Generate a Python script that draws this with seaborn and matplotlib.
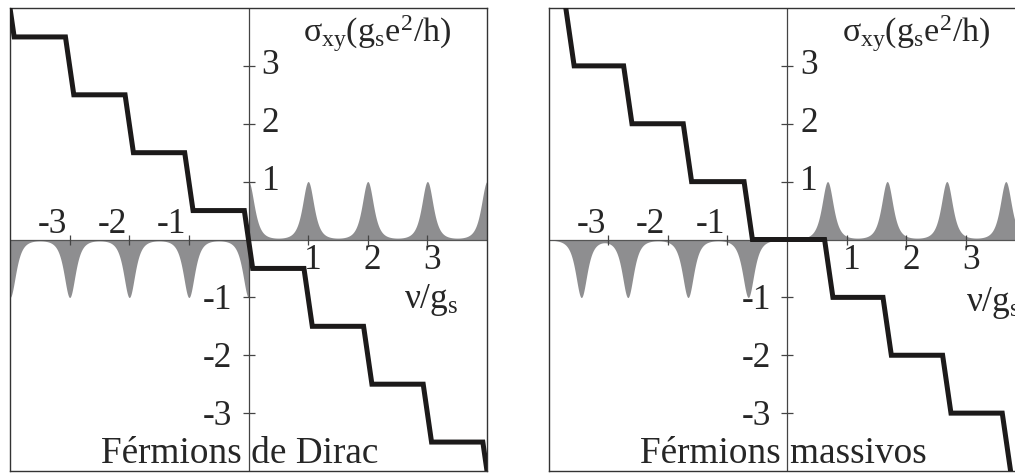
import numpy as np
import pandas as pd
import matplotlib
matplotlib.use("Agg")
import matplotlib.pyplot as plt
import seaborn as sns

# ---------------- data ----------------
# Dirac fermions (left panel)
dirac_transitions = [-4, -3, -2, -1, 0, 1, 2, 3, 4]
dirac_levels = [4.5, 3.5, 2.5, 1.5, 0.5, -0.5, -1.5, -2.5, -3.5, -4.5]
dirac_peaks_pos = [0, 1, 2, 3, 4]
dirac_peaks_neg = [-4, -3, -2, -1, 0]

# Massive fermions (right panel)
massive_transitions = [-3.64, -2.67, -1.67, -0.65, 0.70, 1.68, 2.68, 3.68]
massive_levels = [4, 3, 2, 1, 0, -1, -2, -3, -4]
massive_peaks_pos = [0.68, 1.68, 2.68, 3.67]
massive_peaks_neg = [-3.45, -2.67, -1.66, -0.65]

peak_height = 1.0
y_ticks_pos = [1, 2, 3]
y_ticks_neg = [-1, -2, -3]
x_ticks_neg = [-3, -2, -1]
x_ticks_pos = [1, 2, 3]
titles = ["Férmions de Dirac", "Férmions massivos"]

# ---------------- style ----------------
sns.set_style("white")
plt.rcParams["font.family"] = ["Liberation Serif", "DejaVu Serif"]
plt.rcParams["mathtext.fontset"] = "custom"
plt.rcParams["mathtext.rm"] = "Liberation Serif"
plt.rcParams["mathtext.it"] = "Liberation Serif"
plt.rcParams["mathtext.bf"] = "Liberation Serif:bold"

LINE = "#1c1a1a"
GRAY = "#8e8e90"
AX = "#333333"
FS_TICK = 25.5
FS_TITLE = 26.8
FS_LAB = 24.5
W = 0.07      # half width of a step transition
GAM = 0.175   # peak shape width


def stair(trans, levels):
    xs, ys = [], []
    for i, t in enumerate(trans):
        xs += [t - W, t + W]
        ys += [levels[i], levels[i + 1]]
    return pd.DataFrame({"x": xs, "y": ys})


def dos(x, centers):
    out = np.zeros_like(x)
    for c in centers:
        out += peak_height / (1 + ((x - c) / GAM) ** 2) ** 2
    return out


fig = plt.figure(figsize=(10.15, 4.74), dpi=100)
ax1 = fig.add_axes([10 / 1015, 3 / 474, 477 / 1015, 463 / 474])
ax2 = fig.add_axes([548.5 / 1015, 3 / 474, 477 / 1015, 463 / 474])

panels = [
    (ax1, dirac_transitions, dirac_levels, dirac_peaks_pos, dirac_peaks_neg, titles[0], 2.6, -1.19),
    (ax2, massive_transitions, massive_levels, massive_peaks_pos, massive_peaks_neg, titles[1], 3.0, -1.24),
]

for ax, trans, levels, ppos, pneg, title, nux, nuy in panels:
    ax.set_xlim(-4, 4)
    ax.set_ylim(-4, 4)
    xp = np.linspace(0, 4.5, 1200)
    xn = np.linspace(-4.5, 0, 1200)
    ax.fill_between(xp, 0, dos(xp, ppos), color=GRAY, lw=0, zorder=1)
    ax.fill_between(xn, 0, -dos(xn, pneg), color=GRAY, lw=0, zorder=1)

    ax.axhline(0, color="#555555", lw=0.9, zorder=2)
    ax.axvline(0, color="#444444", lw=0.9, zorder=2)
    ax.plot([0] * 6, y_ticks_pos + y_ticks_neg, ls="none", marker="_", ms=8,
            mew=0.9, color="#444444", zorder=2)
    ax.plot(x_ticks_neg + x_ticks_pos, [0] * 6, ls="none", marker="|", ms=7,
            mew=0.9, color="#444444", zorder=2)

    df = stair(trans, levels)
    sns.lineplot(data=df, x="x", y="y", sort=False, estimator=None, ax=ax,
                 color=LINE, lw=3.6, zorder=3)
    ax.lines[-1].set_solid_joinstyle("miter")

    for v in y_ticks_pos:
        ax.text(0.22, v, str(v), ha="left", va="center", fontsize=FS_TICK, zorder=4)
    for v in y_ticks_neg:
        ax.text(-0.27, v - 0.05, str(v), ha="right", va="center", fontsize=FS_TICK, zorder=4)
    for v in x_ticks_neg:
        ax.text(v - 0.04, 0.12, str(v), ha="right", va="baseline", fontsize=FS_TICK, zorder=4)
    for v in x_ticks_pos:
        ax.text(v + 0.08, -0.51, str(v), ha="center", va="baseline", fontsize=FS_TICK, zorder=4)

    ax.text(0.92, 3.41, r"$\sigma_{xy}(g_s e^2/h)$", ha="left", va="baseline",
            fontsize=FS_LAB, zorder=4)
    ax.text(nux, nuy, r"$\nu/g_s$", ha="left", va="baseline", fontsize=FS_TICK, zorder=4)
    ax.text(-2.47, -3.87, title, ha="left", va="baseline", fontsize=FS_TITLE, zorder=4)

    ax.set_xticks([])
    ax.set_yticks([])
    ax.set_xlabel("")
    ax.set_ylabel("")
    for s in ax.spines.values():
        s.set_visible(True)
        s.set_color(AX)
        s.set_linewidth(1.0)

fig.savefig("out.png", dpi=100)
